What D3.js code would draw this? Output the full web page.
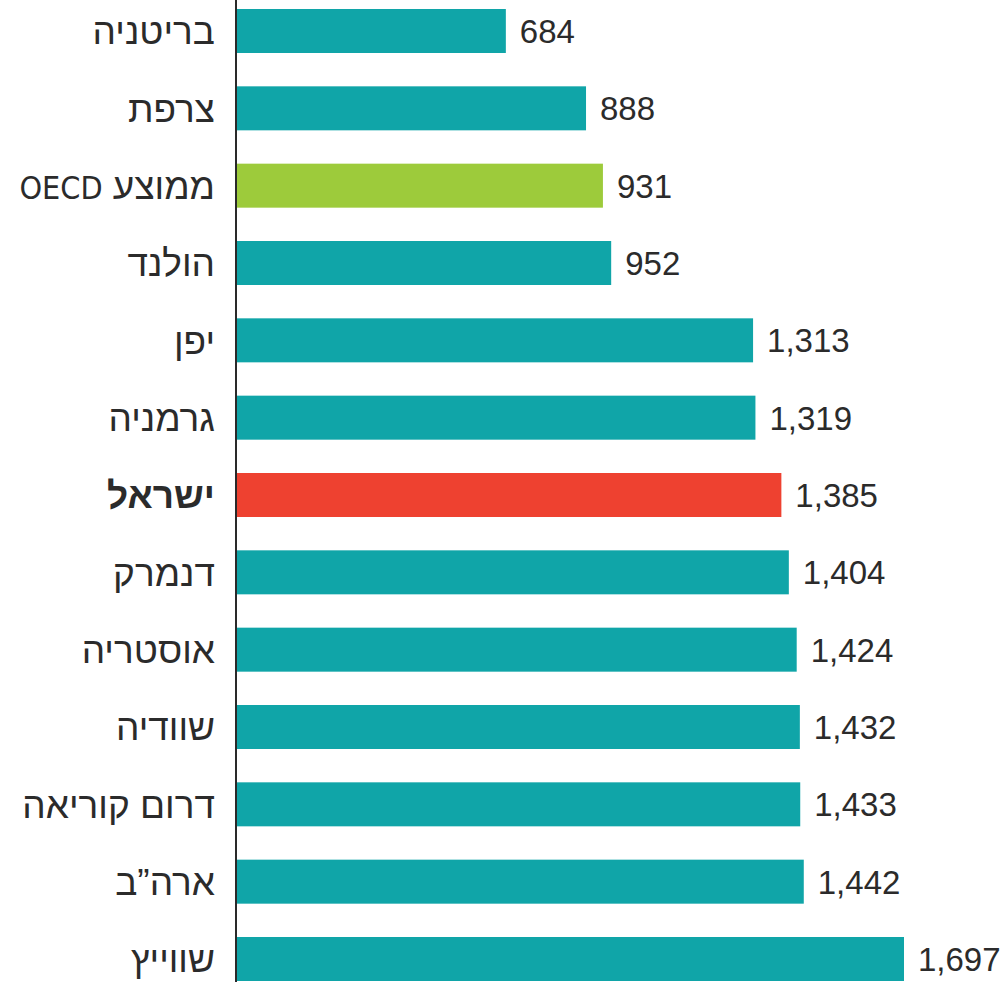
<!DOCTYPE html>
<html><head><meta charset="utf-8">
<script src="https://cdn.jsdelivr.net/npm/d3@7"></script>
<style>html,body{margin:0;padding:0;background:#fff;}svg{display:block;}</style>
</head><body>
<svg id="chart" width="1007" height="982"></svg>
<script>
const categories = ["בריטניה","צרפת","ממוצע OECD","הולנד","יפן","גרמניה","ישראל","דנמרק","אוסטריה","שוודיה","דרום קוריאה","ארה\u201Dב","שווייץ"];
const values = [684,888,931,952,1313,1319,1385,1404,1424,1432,1433,1442,1697];
const highlight = {"ממוצע OECD":"#9dcb3b","ישראל":"#ee4130"};
const baseColor = "#10a5a8";

const W = 1007, H = 982;
const svg = d3.select("#chart");
const x0 = 237;
const x = d3.scaleLinear().domain([0, 1697]).range([x0, 904]);
const y = d3.scaleBand().domain(categories).range([9, 981]).paddingInner(0.431).paddingOuter(0);
const fmt = d3.format(",");

svg.selectAll("rect.bar").data(categories).join("rect")
  .attr("class","bar")
  .attr("x", x(0))
  .attr("y", d => y(d))
  .attr("width", (d,i) => x(values[i]) - x(0))
  .attr("height", y.bandwidth())
  .attr("fill", d => highlight[d] || baseColor);

svg.append("line")
  .attr("x1", x0 - 1).attr("x2", x0 - 1)
  .attr("y1", 0).attr("y2", H)
  .attr("stroke", "#2a2a2a").attr("stroke-width", 2);

svg.selectAll("text.val").data(categories).join("text")
  .attr("class","val")
  .attr("x", (d,i) => x(values[i]) + 14)
  .attr("y", d => y(d) + y.bandwidth()/2)
  .attr("dy", "0.36em")
  .attr("font-family", "'Liberation Sans', Arial, sans-serif")
  .attr("font-size", 33)
  .attr("fill", "#2b2b2b")
  .text((d,i) => fmt(values[i]));

const cats = svg.selectAll("text.cat").data(categories).join("text")
  .attr("class","cat")
  .attr("x", 215)
  .attr("y", d => y(d) + y.bandwidth()/2)
  .attr("dy", "0.36em")
  .attr("text-anchor", "start")
  .attr("direction", "rtl")
  .attr("font-family", "'Liberation Sans', Arial, sans-serif")
  .attr("font-size", 37)
  .attr("font-weight", d => d === "ישראל" ? "bold" : "normal")
  .attr("fill", "#2b2b2b");

cats.each(function(d) {
  const t = d3.select(this);
  const parts = d.split(/([A-Za-z]+)/).filter(p => p.length);
  parts.forEach(p => {
    const ts = t.append("tspan").text(p);
    if (/^[A-Za-z]+$/.test(p)) {
      ts.attr("font-family", "'DejaVu Sans Condensed', 'Liberation Sans', sans-serif")
        .attr("font-size", 32);
    }
  });
});
</script>
</body></html>
